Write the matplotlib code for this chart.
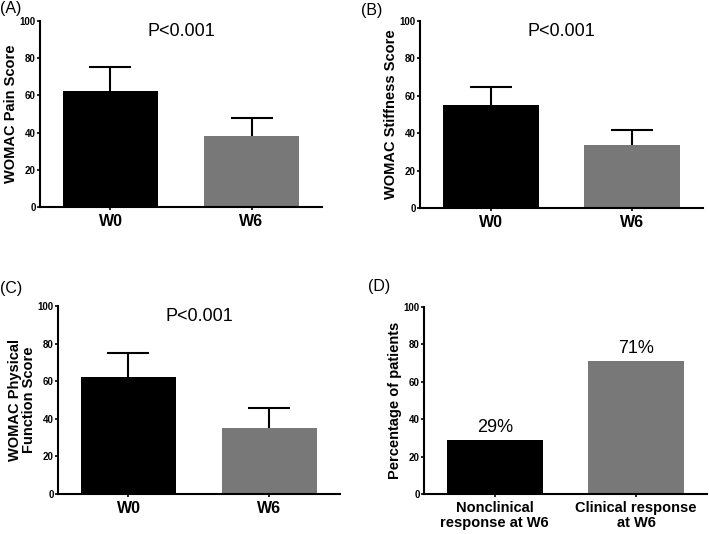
import numpy as np
import matplotlib.pyplot as plt

plt.rcParams['font.family'] = ['Liberation Sans', 'DejaVu Sans']

# Data
groups = ["W0", "W6"]
pain_mean = [62.5, 38]
pain_err = [12.5, 9.8]
stiff_mean = [55, 33.5]
stiff_err = [9.5, 8]
func_mean = [62, 35]
func_err = [13, 10.5]
resp_labels = ["Nonclinical\nresponse at W6", "Clinical response\nat W6"]
resp_pct = [29, 71]

bar_colors = ["#000000", "#787878"]

fig = plt.figure(figsize=(7.09, 5.34), dpi=100)

# axes positions (left, bottom, width, height) in figure fractions
posA = [0.0564, 0.6124, 0.3978, 0.3483]
posB = [0.5924, 0.6105, 0.3991, 0.3502]
posC = [0.0818, 0.0749, 0.3977, 0.3521]
posD = [0.5980, 0.0749, 0.3990, 0.3502]


def style_axes(ax, xlabels, xfs):
    ax.set_xlim(-0.5, 1.5)
    ax.set_ylim(0, 100)
    ax.set_yticks(np.arange(0, 101, 20))
    ax.spines['top'].set_visible(False)
    ax.spines['right'].set_visible(False)
    for s in ['left', 'bottom']:
        ax.spines[s].set_linewidth(1.5)
    ax.tick_params(axis='y', width=1.2, length=2.2, pad=1, labelsize=7)
    ax.tick_params(axis='x', width=1.2, length=2.2, pad=3)
    for lab in ax.get_yticklabels():
        lab.set_fontweight('bold')
    ax.set_xticks([0, 1])
    ax.set_xticklabels(xlabels, fontsize=xfs, fontweight='bold', linespacing=1.1)


def score_panel(pos, means, errs, ylabel):
    ax = fig.add_axes(pos)
    x = np.arange(len(groups))
    ax.bar(x, means, width=0.68, color=bar_colors, zorder=2)
    _, caps, _ = ax.errorbar(x, means, yerr=[[0, 0], errs], fmt='none', ecolor='black',
                             elinewidth=1.5, capsize=15, capthick=1.5, zorder=3)
    caps[0].set_visible(False)  # only the upper cap
    style_axes(ax, groups, 11.5)
    ax.set_ylabel(ylabel, fontsize=10.5, fontweight='bold', labelpad=1, linespacing=1.0)
    ax.text(0.5, 0.99, "P<0.001", transform=ax.transAxes, ha='center', va='top', fontsize=13)
    return ax


score_panel(posA, pain_mean, pain_err, "WOMAC Pain Score")
score_panel(posB, stiff_mean, stiff_err, "WOMAC Stiffness Score")
score_panel(posC, func_mean, func_err, "WOMAC Physical\nFunction Score")

axD = fig.add_axes(posD)
xd = np.arange(len(resp_pct))
axD.bar(xd, resp_pct, width=0.68, color=bar_colors, zorder=2)
style_axes(axD, resp_labels, 10.5)
axD.set_ylabel("Percentage of patients", fontsize=10.5, fontweight='bold', labelpad=1)
for xi, v in zip(xd, resp_pct):
    axD.annotate(f"{v}%", (xi, v), xytext=(0, 3), textcoords='offset points',
                 ha='center', va='bottom', fontsize=13)

# panel tags
fig.text(0 / 709, 1 - 8 / 534, "(A)", fontsize=11.5, va='center', ha='left')
fig.text(361 / 709, 1 - 10 / 534, "(B)", fontsize=11.5, va='center', ha='left')
fig.text(0 / 709, 1 - 289 / 534, "(C)", fontsize=11.5, va='center', ha='left')
fig.text(368 / 709, 1 - 286 / 534, "(D)", fontsize=11.5, va='center', ha='left')

fig.savefig("out.png", dpi=100)
